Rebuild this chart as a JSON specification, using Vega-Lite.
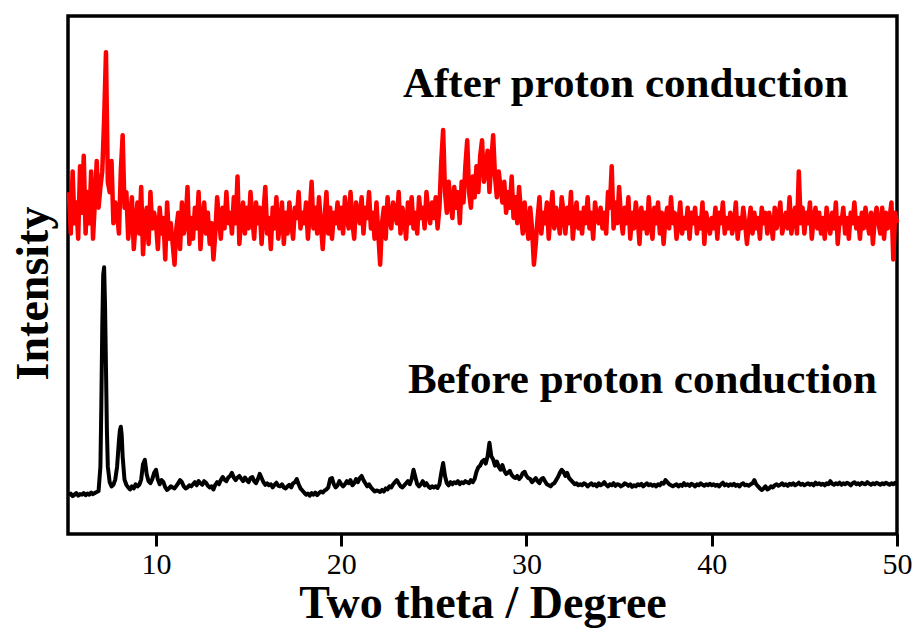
{
"$schema":"https://vega.github.io/schema/vega-lite/v6.json",
"width":829,"height":518,
"autosize":{"type":"none"},
"padding":{"left":68,"top":16,"right":20,"bottom":105},
"background":"white",
"config":{"view":{"stroke":"black","strokeWidth":3.5},"font":"Liberation Serif"},
"datasets":{
"red":[
{"x":5.3,"y":66},{"x":5.4,"y":58},{"x":5.5,"y":70},{"x":5.6,"y":60},{"x":5.7,"y":64},{"x":5.8,"y":57},{"x":5.9,"y":71},
{"x":6.0,"y":62},{"x":6.1,"y":73},{"x":6.2,"y":58},{"x":6.3,"y":66},{"x":6.4,"y":60},{"x":6.5,"y":70},{"x":6.6,"y":57},{"x":6.7,"y":64},{"x":6.8,"y":72},{"x":6.9,"y":63},
{"x":7.0,"y":67},{"x":7.1,"y":70},{"x":7.2,"y":80},{"x":7.3,"y":93},{"x":7.4,"y":68},{"x":7.5,"y":66},{"x":7.6,"y":72},{"x":7.7,"y":60},{"x":7.8,"y":64},{"x":7.9,"y":62},
{"x":8.0,"y":58},{"x":8.1,"y":70},{"x":8.2,"y":77},{"x":8.3,"y":63},{"x":8.4,"y":66},{"x":8.5,"y":57},{"x":8.6,"y":61},{"x":8.7,"y":65},{"x":8.8,"y":55},{"x":8.9,"y":60},
{"x":9.0,"y":64},{"x":9.1,"y":58},{"x":9.2,"y":67},{"x":9.3,"y":54},{"x":9.4,"y":61},{"x":9.5,"y":63},{"x":9.6,"y":56},{"x":9.7,"y":66},{"x":9.8,"y":59},{"x":9.9,"y":62},
{"x":10.0,"y":60},{"x":10.1,"y":55},{"x":10.2,"y":63},{"x":10.3,"y":58},{"x":10.4,"y":61},{"x":10.5,"y":53},{"x":10.6,"y":64},{"x":10.7,"y":57},{"x":10.8,"y":60},{"x":10.9,"y":56},
{"x":11.0,"y":52},{"x":11.1,"y":59},{"x":11.2,"y":62},{"x":11.3,"y":55},{"x":11.4,"y":64},{"x":11.5,"y":58},{"x":11.6,"y":60},{"x":11.7,"y":67},{"x":11.8,"y":56},{"x":11.9,"y":61},
{"x":12.0,"y":57},{"x":12.1,"y":63},{"x":12.2,"y":59},{"x":12.3,"y":66},{"x":12.4,"y":55},{"x":12.5,"y":61},{"x":12.6,"y":64},{"x":12.7,"y":58},{"x":12.8,"y":62},{"x":12.9,"y":56},
{"x":13.0,"y":60},{"x":13.1,"y":53},{"x":13.2,"y":58},{"x":13.3,"y":65},{"x":13.4,"y":61},{"x":13.5,"y":57},{"x":13.6,"y":63},{"x":13.7,"y":59},{"x":13.8,"y":66},{"x":13.9,"y":60},
{"x":14.0,"y":62},{"x":14.1,"y":58},{"x":14.2,"y":65},{"x":14.3,"y":60},{"x":14.4,"y":69},{"x":14.5,"y":56},{"x":14.6,"y":61},{"x":14.7,"y":64},{"x":14.8,"y":58},{"x":14.9,"y":63},
{"x":15.0,"y":59},{"x":15.1,"y":66},{"x":15.2,"y":61},{"x":15.3,"y":57},{"x":15.4,"y":64},{"x":15.5,"y":60},{"x":15.6,"y":63},{"x":15.7,"y":56},{"x":15.8,"y":62},{"x":15.9,"y":67},
{"x":16.0,"y":58},{"x":16.1,"y":61},{"x":16.2,"y":55},{"x":16.3,"y":63},{"x":16.4,"y":59},{"x":16.5,"y":65},{"x":16.6,"y":57},{"x":16.7,"y":60},{"x":16.8,"y":64},{"x":16.9,"y":56},
{"x":17.0,"y":62},{"x":17.1,"y":58},{"x":17.2,"y":64},{"x":17.3,"y":60},{"x":17.4,"y":57},{"x":17.5,"y":63},{"x":17.6,"y":61},{"x":17.7,"y":66},{"x":17.8,"y":59},{"x":17.9,"y":62},
{"x":18.0,"y":60},{"x":18.1,"y":64},{"x":18.2,"y":57},{"x":18.3,"y":62},{"x":18.4,"y":68},{"x":18.5,"y":59},{"x":18.6,"y":63},{"x":18.7,"y":58},{"x":18.8,"y":65},{"x":18.9,"y":60},
{"x":19.0,"y":55},{"x":19.1,"y":61},{"x":19.2,"y":66},{"x":19.3,"y":58},{"x":19.4,"y":63},{"x":19.5,"y":57},{"x":19.6,"y":62},{"x":19.7,"y":60},{"x":19.8,"y":64},{"x":19.9,"y":59},
{"x":20.0,"y":63},{"x":20.1,"y":58},{"x":20.2,"y":65},{"x":20.3,"y":61},{"x":20.4,"y":59},{"x":20.5,"y":66},{"x":20.6,"y":60},{"x":20.7,"y":57},{"x":20.8,"y":64},{"x":20.9,"y":62},
{"x":21.0,"y":60},{"x":21.1,"y":65},{"x":21.2,"y":58},{"x":21.3,"y":63},{"x":21.4,"y":61},{"x":21.5,"y":66},{"x":21.6,"y":59},{"x":21.7,"y":62},{"x":21.8,"y":57},{"x":21.9,"y":64},
{"x":22.0,"y":58},{"x":22.1,"y":52},{"x":22.2,"y":60},{"x":22.3,"y":63},{"x":22.4,"y":57},{"x":22.5,"y":65},{"x":22.6,"y":61},{"x":22.7,"y":59},{"x":22.8,"y":64},{"x":22.9,"y":62},
{"x":23.0,"y":60},{"x":23.1,"y":66},{"x":23.2,"y":58},{"x":23.3,"y":63},{"x":23.4,"y":61},{"x":23.5,"y":57},{"x":23.6,"y":64},{"x":23.7,"y":60},{"x":23.8,"y":65},{"x":23.9,"y":59},
{"x":24.0,"y":62},{"x":24.1,"y":58},{"x":24.2,"y":65},{"x":24.3,"y":61},{"x":24.4,"y":63},{"x":24.5,"y":59},{"x":24.6,"y":66},{"x":24.7,"y":62},{"x":24.8,"y":60},{"x":24.9,"y":64},
{"x":25.0,"y":61},{"x":25.1,"y":65},{"x":25.2,"y":59},{"x":25.3,"y":63},{"x":25.4,"y":72},{"x":25.5,"y":78},{"x":25.6,"y":66},{"x":25.7,"y":62},{"x":25.8,"y":68},{"x":25.9,"y":64},
{"x":26.0,"y":61},{"x":26.1,"y":67},{"x":26.2,"y":63},{"x":26.3,"y":66},{"x":26.4,"y":60},{"x":26.5,"y":68},{"x":26.6,"y":64},{"x":26.7,"y":71},{"x":26.8,"y":76},{"x":26.9,"y":66},
{"x":27.0,"y":63},{"x":27.1,"y":69},{"x":27.2,"y":65},{"x":27.3,"y":71},{"x":27.4,"y":66},{"x":27.5,"y":73},{"x":27.6,"y":76},{"x":27.7,"y":68},{"x":27.8,"y":70},{"x":27.9,"y":74},
{"x":28.0,"y":66},{"x":28.1,"y":72},{"x":28.2,"y":77},{"x":28.3,"y":69},{"x":28.4,"y":65},{"x":28.5,"y":70},{"x":28.6,"y":67},{"x":28.7,"y":64},{"x":28.8,"y":68},{"x":28.9,"y":62},
{"x":29.0,"y":66},{"x":29.1,"y":63},{"x":29.2,"y":69},{"x":29.3,"y":61},{"x":29.4,"y":65},{"x":29.5,"y":60},{"x":29.6,"y":67},{"x":29.7,"y":62},{"x":29.8,"y":58},{"x":29.9,"y":64},
{"x":30.0,"y":60},{"x":30.1,"y":57},{"x":30.2,"y":63},{"x":30.3,"y":59},{"x":30.4,"y":52},{"x":30.5,"y":56},{"x":30.6,"y":61},{"x":30.7,"y":65},{"x":30.8,"y":58},{"x":30.9,"y":62},
{"x":31.0,"y":60},{"x":31.1,"y":64},{"x":31.2,"y":57},{"x":31.3,"y":62},{"x":31.4,"y":66},{"x":31.5,"y":59},{"x":31.6,"y":63},{"x":31.7,"y":61},{"x":31.8,"y":58},{"x":31.9,"y":65},
{"x":32.0,"y":62},{"x":32.1,"y":58},{"x":32.2,"y":63},{"x":32.3,"y":60},{"x":32.4,"y":66},{"x":32.5,"y":57},{"x":32.6,"y":61},{"x":32.7,"y":64},{"x":32.8,"y":59},{"x":32.9,"y":62},
{"x":33.0,"y":58},{"x":33.1,"y":63},{"x":33.2,"y":60},{"x":33.3,"y":65},{"x":33.4,"y":59},{"x":33.5,"y":62},{"x":33.6,"y":57},{"x":33.7,"y":64},{"x":33.8,"y":61},{"x":33.9,"y":60},
{"x":34.0,"y":63},{"x":34.1,"y":59},{"x":34.2,"y":62},{"x":34.3,"y":58},{"x":34.4,"y":66},{"x":34.5,"y":63},{"x":34.6,"y":71},{"x":34.7,"y":59},{"x":34.8,"y":64},{"x":34.9,"y":60},
{"x":35.0,"y":67},{"x":35.1,"y":61},{"x":35.2,"y":58},{"x":35.3,"y":63},{"x":35.4,"y":60},{"x":35.5,"y":65},{"x":35.6,"y":57},{"x":35.7,"y":62},{"x":35.8,"y":59},{"x":35.9,"y":64},
{"x":36.0,"y":61},{"x":36.1,"y":56},{"x":36.2,"y":63},{"x":36.3,"y":59},{"x":36.4,"y":62},{"x":36.5,"y":58},{"x":36.6,"y":65},{"x":36.7,"y":60},{"x":36.8,"y":57},{"x":36.9,"y":63},
{"x":37.0,"y":60},{"x":37.1,"y":64},{"x":37.2,"y":58},{"x":37.3,"y":62},{"x":37.4,"y":56},{"x":37.5,"y":61},{"x":37.6,"y":63},{"x":37.7,"y":59},{"x":37.8,"y":65},{"x":37.9,"y":60},
{"x":38.0,"y":62},{"x":38.1,"y":57},{"x":38.2,"y":60},{"x":38.3,"y":64},{"x":38.4,"y":58},{"x":38.5,"y":61},{"x":38.6,"y":59},{"x":38.7,"y":63},{"x":38.8,"y":57},{"x":38.9,"y":62},
{"x":39.0,"y":60},{"x":39.1,"y":63},{"x":39.2,"y":58},{"x":39.3,"y":61},{"x":39.4,"y":59},{"x":39.5,"y":64},{"x":39.6,"y":56},{"x":39.7,"y":62},{"x":39.8,"y":60},{"x":39.9,"y":58},
{"x":40.0,"y":61},{"x":40.1,"y":59},{"x":40.2,"y":63},{"x":40.3,"y":57},{"x":40.4,"y":62},{"x":40.5,"y":60},{"x":40.6,"y":64},{"x":40.7,"y":58},{"x":40.8,"y":61},{"x":40.9,"y":59},
{"x":41.0,"y":62},{"x":41.1,"y":58},{"x":41.2,"y":60},{"x":41.3,"y":64},{"x":41.4,"y":57},{"x":41.5,"y":61},{"x":41.6,"y":59},{"x":41.7,"y":63},{"x":41.8,"y":60},{"x":41.9,"y":56},
{"x":42.0,"y":60},{"x":42.1,"y":63},{"x":42.2,"y":58},{"x":42.3,"y":62},{"x":42.4,"y":59},{"x":42.5,"y":61},{"x":42.6,"y":57},{"x":42.7,"y":63},{"x":42.8,"y":60},{"x":42.9,"y":62},
{"x":43.0,"y":58},{"x":43.1,"y":62},{"x":43.2,"y":60},{"x":43.3,"y":57},{"x":43.4,"y":63},{"x":43.5,"y":59},{"x":43.6,"y":61},{"x":43.7,"y":64},{"x":43.8,"y":58},{"x":43.9,"y":60},
{"x":44.0,"y":62},{"x":44.1,"y":59},{"x":44.2,"y":65},{"x":44.3,"y":58},{"x":44.4,"y":61},{"x":44.5,"y":63},{"x":44.6,"y":58},{"x":44.7,"y":70},{"x":44.8,"y":60},{"x":44.9,"y":63},
{"x":45.0,"y":58},{"x":45.1,"y":62},{"x":45.2,"y":60},{"x":45.3,"y":64},{"x":45.4,"y":57},{"x":45.5,"y":61},{"x":45.6,"y":63},{"x":45.7,"y":59},{"x":45.8,"y":62},{"x":45.9,"y":58},
{"x":46.0,"y":61},{"x":46.1,"y":57},{"x":46.2,"y":63},{"x":46.3,"y":60},{"x":46.4,"y":58},{"x":46.5,"y":62},{"x":46.6,"y":59},{"x":46.7,"y":64},{"x":46.8,"y":56},{"x":46.9,"y":61},
{"x":47.0,"y":60},{"x":47.1,"y":63},{"x":47.2,"y":58},{"x":47.3,"y":61},{"x":47.4,"y":57},{"x":47.5,"y":62},{"x":47.6,"y":60},{"x":47.7,"y":64},{"x":47.8,"y":59},{"x":47.9,"y":61},
{"x":48.0,"y":57},{"x":48.1,"y":62},{"x":48.2,"y":59},{"x":48.3,"y":63},{"x":48.4,"y":60},{"x":48.5,"y":58},{"x":48.6,"y":62},{"x":48.7,"y":56},{"x":48.8,"y":61},{"x":48.9,"y":63},
{"x":49.0,"y":60},{"x":49.1,"y":58},{"x":49.2,"y":63},{"x":49.3,"y":57},{"x":49.4,"y":62},{"x":49.5,"y":59},{"x":49.6,"y":61},{"x":49.7,"y":64},{"x":49.8,"y":53},{"x":49.9,"y":62},{"x":50.0,"y":60}
],
"black":[
{"x":5.3,"y":7.5},{"x":5.4,"y":7.8},{"x":5.5,"y":7.3},{"x":5.6,"y":7.6},{"x":5.7,"y":7.9},{"x":5.8,"y":7.4},{"x":5.9,"y":7.7},
{"x":6.0,"y":7.6},{"x":6.1,"y":7.9},{"x":6.2,"y":7.5},{"x":6.3,"y":7.8},{"x":6.4,"y":7.6},{"x":6.5,"y":8.0},{"x":6.6,"y":7.7},{"x":6.7,"y":7.9},{"x":6.8,"y":8.1},{"x":6.9,"y":8.3},
{"x":7.0,"y":13},{"x":7.05,"y":25},{"x":7.1,"y":40},{"x":7.15,"y":50},{"x":7.2,"y":51.5},{"x":7.25,"y":44},{"x":7.3,"y":32},{"x":7.35,"y":20},{"x":7.4,"y":13},{"x":7.5,"y":10},{"x":7.6,"y":9.2},{"x":7.7,"y":9.5},{"x":7.8,"y":10.5},{"x":7.9,"y":13},
{"x":8.0,"y":18},{"x":8.05,"y":20},{"x":8.1,"y":20.7},{"x":8.15,"y":19},{"x":8.2,"y":15},{"x":8.3,"y":10.5},{"x":8.4,"y":9.5},{"x":8.5,"y":9},{"x":8.6,"y":8.6},{"x":8.7,"y":9.2},{"x":8.8,"y":8.8},{"x":8.9,"y":9.6},
{"x":9.0,"y":9.2},{"x":9.1,"y":9.5},{"x":9.2,"y":10.5},{"x":9.3,"y":13.5},{"x":9.4,"y":14.3},{"x":9.5,"y":11.5},{"x":9.6,"y":10.2},{"x":9.7,"y":9.8},{"x":9.8,"y":10.6},{"x":9.9,"y":11.8},
{"x":10.0,"y":12.4},{"x":10.1,"y":10.5},{"x":10.2,"y":9.6},{"x":10.3,"y":10.4},{"x":10.4,"y":10.0},{"x":10.5,"y":9.0},{"x":10.6,"y":8.5},{"x":10.7,"y":8.8},{"x":10.8,"y":9.2},{"x":10.9,"y":9.0},
{"x":11.0,"y":8.8},{"x":11.1,"y":9.3},{"x":11.2,"y":9.8},{"x":11.3,"y":10.4},{"x":11.4,"y":10.0},{"x":11.5,"y":9.2},{"x":11.6,"y":8.8},{"x":11.7,"y":9.0},{"x":11.8,"y":9.4},{"x":11.9,"y":9.2},
{"x":12.0,"y":9.6},{"x":12.1,"y":10.0},{"x":12.2,"y":9.4},{"x":12.3,"y":10.2},{"x":12.4,"y":9.8},{"x":12.5,"y":9.5},{"x":12.6,"y":10.2},{"x":12.7,"y":9.9},{"x":12.8,"y":9.3},{"x":12.9,"y":9.0},
{"x":13.0,"y":9.2},{"x":13.1,"y":8.6},{"x":13.2,"y":9.5},{"x":13.3,"y":10.0},{"x":13.4,"y":9.6},{"x":13.5,"y":10.4},{"x":13.6,"y":11.0},{"x":13.7,"y":10.5},{"x":13.8,"y":10.2},{"x":13.9,"y":10.9},
{"x":14.0,"y":11.2},{"x":14.1,"y":11.8},{"x":14.2,"y":10.9},{"x":14.3,"y":10.4},{"x":14.4,"y":10.9},{"x":14.5,"y":11.2},{"x":14.6,"y":10.7},{"x":14.7,"y":10.2},{"x":14.8,"y":10.9},{"x":14.9,"y":10.4},
{"x":15.0,"y":10.0},{"x":15.1,"y":10.8},{"x":15.2,"y":11.0},{"x":15.3,"y":10.2},{"x":15.4,"y":9.8},{"x":15.5,"y":10.6},{"x":15.6,"y":11.6},{"x":15.7,"y":10.8},{"x":15.8,"y":10.0},{"x":15.9,"y":9.5},
{"x":16.0,"y":9.8},{"x":16.1,"y":9.4},{"x":16.2,"y":9.6},{"x":16.3,"y":9.0},{"x":16.4,"y":9.5},{"x":16.5,"y":9.9},{"x":16.6,"y":9.3},{"x":16.7,"y":9.2},{"x":16.8,"y":9.6},{"x":16.9,"y":9.0},
{"x":17.0,"y":8.8},{"x":17.1,"y":9.2},{"x":17.2,"y":9.5},{"x":17.3,"y":9.0},{"x":17.4,"y":9.8},{"x":17.5,"y":10.0},{"x":17.6,"y":10.6},{"x":17.7,"y":9.6},{"x":17.8,"y":8.8},{"x":17.9,"y":8.4},
{"x":18.0,"y":8.0},{"x":18.1,"y":7.6},{"x":18.2,"y":7.8},{"x":18.3,"y":7.4},{"x":18.4,"y":7.9},{"x":18.5,"y":7.6},{"x":18.6,"y":8.0},{"x":18.7,"y":7.5},{"x":18.8,"y":7.9},{"x":18.9,"y":8.2},
{"x":19.0,"y":8.0},{"x":19.1,"y":8.4},{"x":19.2,"y":8.6},{"x":19.3,"y":9.0},{"x":19.4,"y":10.6},{"x":19.5,"y":10.8},{"x":19.6,"y":9.6},{"x":19.7,"y":9.0},{"x":19.8,"y":9.4},{"x":19.9,"y":10.2},
{"x":20.0,"y":9.6},{"x":20.1,"y":9.2},{"x":20.2,"y":9.6},{"x":20.3,"y":10.2},{"x":20.4,"y":9.8},{"x":20.5,"y":10.4},{"x":20.6,"y":9.4},{"x":20.7,"y":9.8},{"x":20.8,"y":10.6},{"x":20.9,"y":10.0},
{"x":21.0,"y":10.8},{"x":21.1,"y":11.2},{"x":21.2,"y":10.4},{"x":21.3,"y":9.8},{"x":21.4,"y":9.2},{"x":21.5,"y":9.6},{"x":21.6,"y":9.0},{"x":21.7,"y":8.6},{"x":21.8,"y":8.2},{"x":21.9,"y":8.4},
{"x":22.0,"y":8.3},{"x":22.1,"y":8.1},{"x":22.2,"y":8.5},{"x":22.3,"y":8.2},{"x":22.4,"y":8.8},{"x":22.5,"y":8.6},{"x":22.6,"y":9.2},{"x":22.7,"y":9.0},{"x":22.8,"y":9.6},{"x":22.9,"y":10.0},
{"x":23.0,"y":10.4},{"x":23.1,"y":9.8},{"x":23.2,"y":9.2},{"x":23.3,"y":9.0},{"x":23.4,"y":9.4},{"x":23.5,"y":9.8},{"x":23.6,"y":10.2},{"x":23.7,"y":9.6},{"x":23.8,"y":10.6},{"x":23.9,"y":12.4},
{"x":24.0,"y":11.0},{"x":24.1,"y":9.6},{"x":24.2,"y":9.2},{"x":24.3,"y":9.6},{"x":24.4,"y":10.2},{"x":24.5,"y":9.4},{"x":24.6,"y":9.8},{"x":24.7,"y":9.2},{"x":24.8,"y":8.9},{"x":24.9,"y":9.2},
{"x":25.0,"y":9.0},{"x":25.1,"y":9.2},{"x":25.2,"y":8.9},{"x":25.3,"y":9.6},{"x":25.4,"y":11.8},{"x":25.5,"y":13.7},{"x":25.6,"y":11.2},{"x":25.7,"y":9.8},{"x":25.8,"y":9.4},{"x":25.9,"y":10.0},
{"x":26.0,"y":9.6},{"x":26.1,"y":10.0},{"x":26.2,"y":9.8},{"x":26.3,"y":10.2},{"x":26.4,"y":9.6},{"x":26.5,"y":10.0},{"x":26.6,"y":9.8},{"x":26.7,"y":10.2},{"x":26.8,"y":10.0},{"x":26.9,"y":9.8},
{"x":27.0,"y":10.4},{"x":27.1,"y":10.0},{"x":27.2,"y":10.6},{"x":27.3,"y":12.0},{"x":27.4,"y":12.9},{"x":27.5,"y":13.2},{"x":27.6,"y":14.0},{"x":27.7,"y":14.3},{"x":27.8,"y":13.6},{"x":27.9,"y":15.0},
{"x":28.0,"y":17.6},{"x":28.1,"y":15.0},{"x":28.2,"y":14.4},{"x":28.3,"y":13.2},{"x":28.4,"y":14.0},{"x":28.5,"y":13.0},{"x":28.6,"y":12.4},{"x":28.7,"y":13.3},{"x":28.8,"y":12.2},{"x":28.9,"y":11.6},
{"x":29.0,"y":11.8},{"x":29.1,"y":12.2},{"x":29.2,"y":11.4},{"x":29.3,"y":11.0},{"x":29.4,"y":10.8},{"x":29.5,"y":11.2},{"x":29.6,"y":10.6},{"x":29.7,"y":11.0},{"x":29.8,"y":11.8},{"x":29.9,"y":12.0},
{"x":30.0,"y":11.2},{"x":30.1,"y":10.8},{"x":30.2,"y":10.6},{"x":30.3,"y":10.0},{"x":30.4,"y":10.4},{"x":30.5,"y":10.8},{"x":30.6,"y":10.2},{"x":30.7,"y":9.8},{"x":30.8,"y":10.6},{"x":30.9,"y":10.8},
{"x":31.0,"y":10.2},{"x":31.1,"y":9.6},{"x":31.2,"y":9.4},{"x":31.3,"y":9.2},{"x":31.4,"y":9.6},{"x":31.5,"y":9.8},{"x":31.6,"y":10.4},{"x":31.7,"y":11.0},{"x":31.8,"y":11.8},{"x":31.9,"y":12.4},
{"x":32.0,"y":12.0},{"x":32.1,"y":11.2},{"x":32.2,"y":11.8},{"x":32.3,"y":10.8},{"x":32.4,"y":10.4},{"x":32.5,"y":10.0},{"x":32.6,"y":9.6},{"x":32.7,"y":9.8},{"x":32.8,"y":9.4},{"x":32.9,"y":9.6},
{"x":33.0,"y":9.4},{"x":33.1,"y":9.8},{"x":33.2,"y":9.6},{"x":33.3,"y":9.2},{"x":33.4,"y":9.5},{"x":33.5,"y":9.8},{"x":33.6,"y":9.4},{"x":33.7,"y":9.6},{"x":33.8,"y":9.2},{"x":33.9,"y":9.8},
{"x":34.0,"y":9.4},{"x":34.1,"y":9.6},{"x":34.2,"y":10.0},{"x":34.3,"y":9.5},{"x":34.4,"y":9.2},{"x":34.5,"y":9.6},{"x":34.6,"y":9.4},{"x":34.7,"y":9.8},{"x":34.8,"y":9.3},{"x":34.9,"y":9.6},
{"x":35.0,"y":9.5},{"x":35.1,"y":9.2},{"x":35.2,"y":9.4},{"x":35.3,"y":9.8},{"x":35.4,"y":9.6},{"x":35.5,"y":9.3},{"x":35.6,"y":9.6},{"x":35.7,"y":9.1},{"x":35.8,"y":9.4},{"x":35.9,"y":9.2},
{"x":36.0,"y":9.6},{"x":36.1,"y":9.4},{"x":36.2,"y":9.7},{"x":36.3,"y":9.2},{"x":36.4,"y":9.5},{"x":36.5,"y":9.8},{"x":36.6,"y":9.4},{"x":36.7,"y":9.6},{"x":36.8,"y":9.3},{"x":36.9,"y":9.5},
{"x":37.0,"y":9.2},{"x":37.1,"y":9.6},{"x":37.2,"y":9.4},{"x":37.3,"y":9.9},{"x":37.4,"y":9.7},{"x":37.5,"y":10.4},{"x":37.6,"y":10.0},{"x":37.7,"y":9.6},{"x":37.8,"y":9.4},{"x":37.9,"y":9.2},
{"x":38.0,"y":9.4},{"x":38.1,"y":9.6},{"x":38.2,"y":9.2},{"x":38.3,"y":9.5},{"x":38.4,"y":9.3},{"x":38.5,"y":9.8},{"x":38.6,"y":9.4},{"x":38.7,"y":9.6},{"x":38.8,"y":9.3},{"x":38.9,"y":9.7},
{"x":39.0,"y":9.5},{"x":39.1,"y":9.2},{"x":39.2,"y":9.6},{"x":39.3,"y":9.4},{"x":39.4,"y":9.8},{"x":39.5,"y":9.5},{"x":39.6,"y":9.3},{"x":39.7,"y":9.6},{"x":39.8,"y":9.4},{"x":39.9,"y":9.7},
{"x":40.0,"y":9.4},{"x":40.1,"y":9.6},{"x":40.2,"y":9.3},{"x":40.3,"y":9.5},{"x":40.4,"y":9.2},{"x":40.5,"y":9.6},{"x":40.6,"y":9.9},{"x":40.7,"y":9.4},{"x":40.8,"y":9.6},{"x":40.9,"y":9.3},
{"x":41.0,"y":9.6},{"x":41.1,"y":9.4},{"x":41.2,"y":9.7},{"x":41.3,"y":9.3},{"x":41.4,"y":9.5},{"x":41.5,"y":9.2},{"x":41.6,"y":9.6},{"x":41.7,"y":9.8},{"x":41.8,"y":9.4},{"x":41.9,"y":9.5},
{"x":42.0,"y":9.3},{"x":42.1,"y":9.6},{"x":42.2,"y":9.8},{"x":42.3,"y":10.4},{"x":42.4,"y":9.6},{"x":42.5,"y":9.2},{"x":42.6,"y":8.8},{"x":42.7,"y":8.5},{"x":42.8,"y":8.8},{"x":42.9,"y":9.2},
{"x":43.0,"y":8.6},{"x":43.1,"y":8.8},{"x":43.2,"y":9.2},{"x":43.3,"y":9.0},{"x":43.4,"y":9.4},{"x":43.5,"y":9.6},{"x":43.6,"y":9.3},{"x":43.7,"y":9.5},{"x":43.8,"y":9.8},{"x":43.9,"y":9.4},
{"x":44.0,"y":9.6},{"x":44.1,"y":9.3},{"x":44.2,"y":9.7},{"x":44.3,"y":9.5},{"x":44.4,"y":9.8},{"x":44.5,"y":9.4},{"x":44.6,"y":9.6},{"x":44.7,"y":9.9},{"x":44.8,"y":9.5},{"x":44.9,"y":9.7},
{"x":45.0,"y":9.4},{"x":45.1,"y":9.6},{"x":45.2,"y":9.8},{"x":45.3,"y":9.5},{"x":45.4,"y":9.7},{"x":45.5,"y":9.4},{"x":45.6,"y":9.9},{"x":45.7,"y":9.6},{"x":45.8,"y":9.8},{"x":45.9,"y":9.5},
{"x":46.0,"y":9.7},{"x":46.1,"y":9.4},{"x":46.2,"y":9.8},{"x":46.3,"y":9.6},{"x":46.4,"y":10.2},{"x":46.5,"y":9.7},{"x":46.6,"y":9.5},{"x":46.7,"y":9.8},{"x":46.8,"y":9.6},{"x":46.9,"y":9.9},
{"x":47.0,"y":9.5},{"x":47.1,"y":9.8},{"x":47.2,"y":9.6},{"x":47.3,"y":9.9},{"x":47.4,"y":9.7},{"x":47.5,"y":9.4},{"x":47.6,"y":9.8},{"x":47.7,"y":10.0},{"x":47.8,"y":9.6},{"x":47.9,"y":9.8},
{"x":48.0,"y":9.5},{"x":48.1,"y":9.9},{"x":48.2,"y":9.7},{"x":48.3,"y":9.6},{"x":48.4,"y":10.0},{"x":48.5,"y":9.7},{"x":48.6,"y":9.5},{"x":48.7,"y":9.8},{"x":48.8,"y":9.6},{"x":48.9,"y":9.9},
{"x":49.0,"y":9.7},{"x":49.1,"y":9.5},{"x":49.2,"y":9.8},{"x":49.3,"y":9.6},{"x":49.4,"y":9.9},{"x":49.5,"y":9.7},{"x":49.6,"y":9.5},{"x":49.7,"y":9.8},{"x":49.8,"y":9.6},{"x":49.9,"y":9.9},{"x":50.0,"y":9.6}
],
"labels":[
{"x":23.33,"y":84.4,"text":"After proton conduction"},
{"x":23.6,"y":27.2,"text":"Before proton conduction"}
]
},
"encoding":{
"x":{"field":"x","type":"quantitative","scale":{"domain":[5.25,50],"nice":false,"zero":false},
 "axis":{"title":"Two theta / Degree","values":[10,20,30,40,50],"grid":false,"domain":false,"tickColor":"black","tickWidth":3,"tickSize":12,
  "labelFont":"Liberation Serif","labelFontSize":30,"labelColor":"black","labelPadding":3,"labelFlush":false,
  "titleFont":"Liberation Serif","titleFontSize":46,"titleFontWeight":"bold","titleColor":"black","titlePadding":2}},
"y":{"field":"y","type":"quantitative","scale":{"domain":[0,100],"nice":false,"zero":false},
 "axis":{"title":"Intensity","grid":false,"domain":false,"ticks":false,"labels":false,
  "titleFont":"Liberation Serif","titleFontSize":46,"titleFontWeight":"bold","titleColor":"black",
  "titleAngle":-90,"titleBaseline":"alphabetic","titleAlign":"center","titleX":-21,"titleY":277}}
},
"layer":[
{"data":{"name":"red"},"mark":{"type":"line","color":"#ff0000","strokeWidth":4.5,"strokeJoin":"round"}},
{"data":{"name":"black"},"mark":{"type":"line","color":"#000000","strokeWidth":4,"strokeJoin":"round"}},
{"data":{"name":"labels"},"mark":{"type":"text","align":"left","baseline":"alphabetic","font":"Liberation Serif","fontSize":43,"fontWeight":"bold","color":"black"},
 "encoding":{"text":{"field":"text","type":"nominal"}}}
]
}
